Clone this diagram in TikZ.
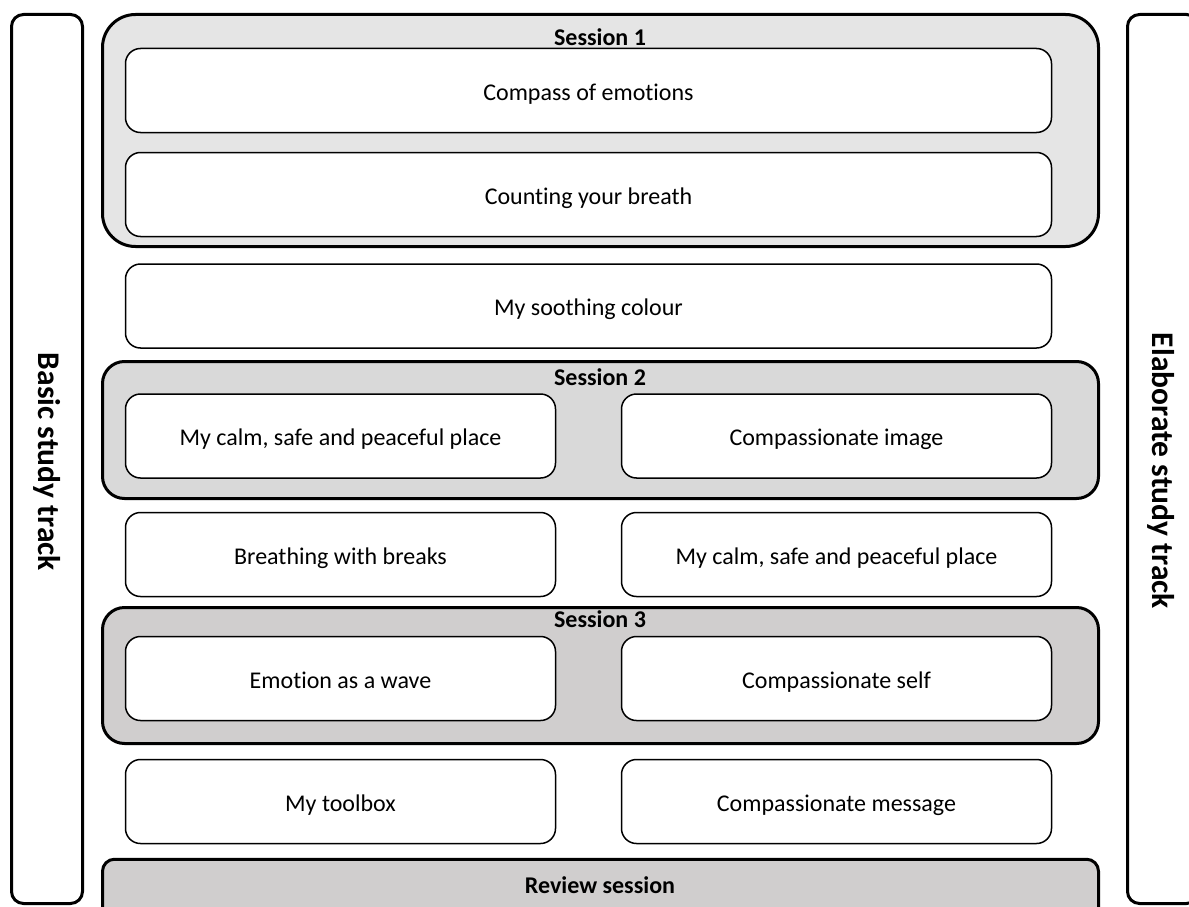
\documentclass[tikz,border=0pt]{standalone}
\usepackage{fontspec}
\setmainfont{Carlito}[Ligatures=NoCommon]
\usetikzlibrary{positioning}

\begin{document}
\begin{tikzpicture}
[x=1pt,y=-1pt,line join=round,
% Styles
track/.style={draw,line width=3pt,rounded corners=12pt,minimum width=71pt,minimum height=889pt,inner sep=0pt},
track title/.style={font=\fontsize{31.5}{36}\selectfont\bfseries,rotate=-90},
session/.style={draw,line width=3pt,minimum width=996pt,inner sep=0pt},
session title/.style={font=\fontsize{24}{29}\selectfont\bfseries},
exercise/.style={draw,fill=white,line width=1.5pt,rounded corners=15pt,minimum height=84pt,inner sep=0pt,
  text height=20pt,text depth=1pt,font=\fontsize{24}{29}\selectfont},
wide exercise/.style={exercise,minimum width=926pt},
half exercise/.style={exercise,minimum width=430pt}]
% Colors
\colorlet{sessiononecolor}{black!10}
\colorlet{sessiontwocolor}{black!15}
\definecolor{sessionthreecolor}{HTML}{D0CECE}
% The graphic
\useasboundingbox (0,0) rectangle (1189,907);
% study tracks
\node[track] (basic) at (47,459) {};
\node[track title] (basic title) at (47,462) {Basic study track};
\node[track] (elaborate) at (1163,459) {};
\node[track title] (elaborate title) at (1161,471) {Elaborate study track};
% sessions
\node[session,fill=sessiononecolor,rounded corners=33pt,minimum height=232pt] (session1) at (600.5,130.5) {};
\node[session title] (session1 title) at (600,37.5) {Session 1};
\node[session,fill=sessiontwocolor,rounded corners=22pt,minimum height=137pt] (session2) at (600.5,430) {};
\node[session title] (session2 title) at (600,377) {Session 2};
\node[session,fill=sessionthreecolor,rounded corners=22pt,minimum height=136pt] (session3) at (600.5,675.5) {};
\node[session title] (session3 title) at (600,619.5) {Session 3};
\node[session,fill=sessionthreecolor,rounded corners=12pt,minimum height=71pt] (review) at (600.5,894.75) {};
\node[session title] (review title) at (600,885) {Review session};
% exercises
\node[wide exercise] (compass) at (588.5,90.5) {Compass of emotions};
\node[wide exercise] (counting) at (588.5,194.5) {Counting your breath};
\node[wide exercise] (soothing) at (588.5,306) {My soothing colour};
\foreach \n/\y/\ltext/\rtext in
  {1/436/{My calm, safe and peaceful place}/Compassionate image,
   2/554.5/Breathing with breaks/{My calm, safe and peaceful place},
   3/678.5/Emotion as a wave/Compassionate self,
   4/801.5/My toolbox/Compassionate message}
{
\node[half exercise] (basic\n) at (340.5,\y) {\ltext};
\node[half exercise] (elaborate\n) at (836.5,\y) {\rtext};
}
\end{tikzpicture}
\end{document}
